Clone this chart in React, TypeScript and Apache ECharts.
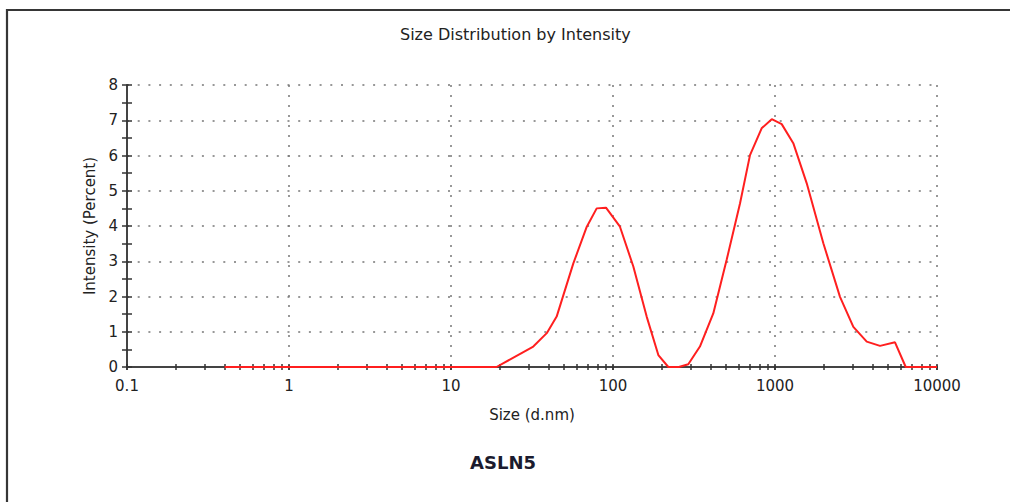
import { useEffect, useRef } from 'react';
import * as echarts from 'echarts';

// Size (d.nm) sample positions
const sizes = [
  0.4, 19.1, 32.2, 39, 44.9, 56.9, 68.9, 79.3, 90.5, 110.4, 133.5, 161.4, 190.5,
  219.5, 255, 291.6, 344, 416, 503, 608, 701, 827, 955, 1100, 1297, 1570, 1988,
  2519, 3045, 3684, 4449, 5505, 6412, 10000,
];
// Intensity (Percent) at each size
const intensities = [
  0, 0, 0.58, 0.96, 1.43, 2.94, 3.98, 4.5, 4.52, 3.98, 2.85, 1.43, 0.34,
  0, 0, 0.08, 0.58, 1.52, 3.04, 4.64, 6.01, 6.77, 7.03, 6.89, 6.35, 5.21, 3.51,
  1.99, 1.14, 0.72, 0.6, 0.7, 0, 0,
];
// log-axis tick positions (decades + minor 2..9)
const xTickValues = [
  0.1, 0.2, 0.3, 0.4, 0.5, 0.6, 0.7, 0.8, 0.9,
  1, 2, 3, 4, 5, 6, 7, 8, 9,
  10, 20, 30, 40, 50, 60, 70, 80, 90,
  100, 200, 300, 400, 500, 600, 700, 800, 900,
  1000, 2000, 3000, 4000, 5000, 6000, 7000, 8000, 9000,
  10000,
];
const xMin = 0.1;
const xMax = 10000;
const yMin = 0;
const yMax = 8;
const yStep = 1;

const titleText = 'Size Distribution by Intensity';
const xName = 'Size (d.nm)';
const yName = 'Intensity (Percent)';
const sampleLabel = 'ASLN5';

const FONT = "'DejaVu Sans', 'Liberation Sans', Arial, sans-serif";
const TICK_STYLE = { color: '#333', width: 1.5 };

export default function App() {
  const ref = useRef<HTMLDivElement>(null);
  useEffect(() => {
    const chart = echarts.init(ref.current!, null, { renderer: 'svg' });
    const fmt = (v: number) => String(parseFloat(Number(v).toPrecision(6)));
    const minorXAxis = (inside: boolean) => ({
      type: 'log',
      logBase: 10,
      min: xMin,
      max: xMax,
      position: 'bottom',
      axisLine: { show: false },
      axisTick: {
        show: true,
        inside,
        customValues: xTickValues,
        length: 3,
        lineStyle: TICK_STYLE,
      },
      axisLabel: { show: false },
      splitLine: { show: false },
    });
    chart.setOption({
      animation: false,
      backgroundColor: '#ffffff',
      title: {
        text: titleText,
        left: 400,
        top: 26,
        padding: 0,
        textStyle: { fontFamily: FONT, fontSize: 16, fontWeight: 'normal', color: '#222' },
      },
      grid: { left: 127, right: 73, top: 85, bottom: 135 },
      xAxis: [
        {
          type: 'log',
          logBase: 10,
          min: xMin,
          max: xMax,
          position: 'bottom',
          name: xName,
          nameLocation: 'middle',
          nameGap: 40,
          nameTextStyle: { fontFamily: FONT, fontSize: 15, color: '#222' },
          axisLine: { show: true, lineStyle: { color: '#444', width: 2 } },
          axisTick: { show: true, length: 3, lineStyle: TICK_STYLE },
          axisLabel: {
            fontFamily: FONT,
            fontSize: 15,
            color: '#222',
            margin: 11,
            formatter: fmt,
          },
          splitLine: {
            show: true,
            lineStyle: { type: [2, 8], color: '#777', width: 1.5 },
          },
        },
        minorXAxis(true),
        minorXAxis(false),
      ],
      yAxis: [
        {
          type: 'value',
          min: yMin,
          max: yMax,
          interval: yStep,
          position: 'left',
          name: yName,
          nameLocation: 'middle',
          nameGap: 30,
          nameRotate: 90,
          nameTextStyle: { fontFamily: FONT, fontSize: 15, color: '#222' },
          axisLine: { show: true, onZero: false, lineStyle: { color: '#444', width: 2 } },
          axisTick: { show: true, length: 5, lineStyle: TICK_STYLE },
          minorTick: { show: true, splitNumber: 2, length: 5, lineStyle: TICK_STYLE },
          axisLabel: { fontFamily: FONT, fontSize: 15, color: '#222', margin: 9 },
          splitLine: {
            show: true,
            lineStyle: { type: [2, 8.7], color: '#777', width: 1.5 },
          },
        },
        {
          type: 'value',
          min: yMin,
          max: yMax,
          interval: yStep,
          position: 'left',
          axisLine: { show: false, onZero: false },
          axisTick: { show: true, inside: true, length: 5, lineStyle: TICK_STYLE },
          minorTick: { show: true, splitNumber: 2, length: 5, lineStyle: TICK_STYLE },
          axisLabel: { show: false },
          splitLine: { show: false },
        },
      ],
      graphic: [
        {
          type: 'polyline',
          shape: { points: [[7, 502], [7, 10], [1010, 10]] },
          style: { stroke: '#363636', lineWidth: 2.2, fill: null },
          silent: true,
        },
        {
          type: 'text',
          x: 503,
          y: 462,
          style: {
            text: sampleLabel,
            fontFamily: FONT,
            fontSize: 18,
            fontWeight: 'bold',
            fill: '#1b1b2e',
            textAlign: 'center',
            textVerticalAlign: 'middle',
          },
        },
      ],
      series: [
        {
          type: 'line',
          xAxisIndex: 0,
          yAxisIndex: 0,
          data: sizes.map((s, i) => [s, intensities[i]]),
          showSymbol: false,
          symbol: 'none',
          lineStyle: { color: '#ff1f1f', width: 2 },
          z: 5,
        },
      ],
    });
    return () => chart.dispose();
  }, []);
  return (
    <div
      ref={ref}
      style={{ position: 'absolute', left: 0, top: 0, width: 1010, height: 502, background: '#fff' }}
    />
  );
}
